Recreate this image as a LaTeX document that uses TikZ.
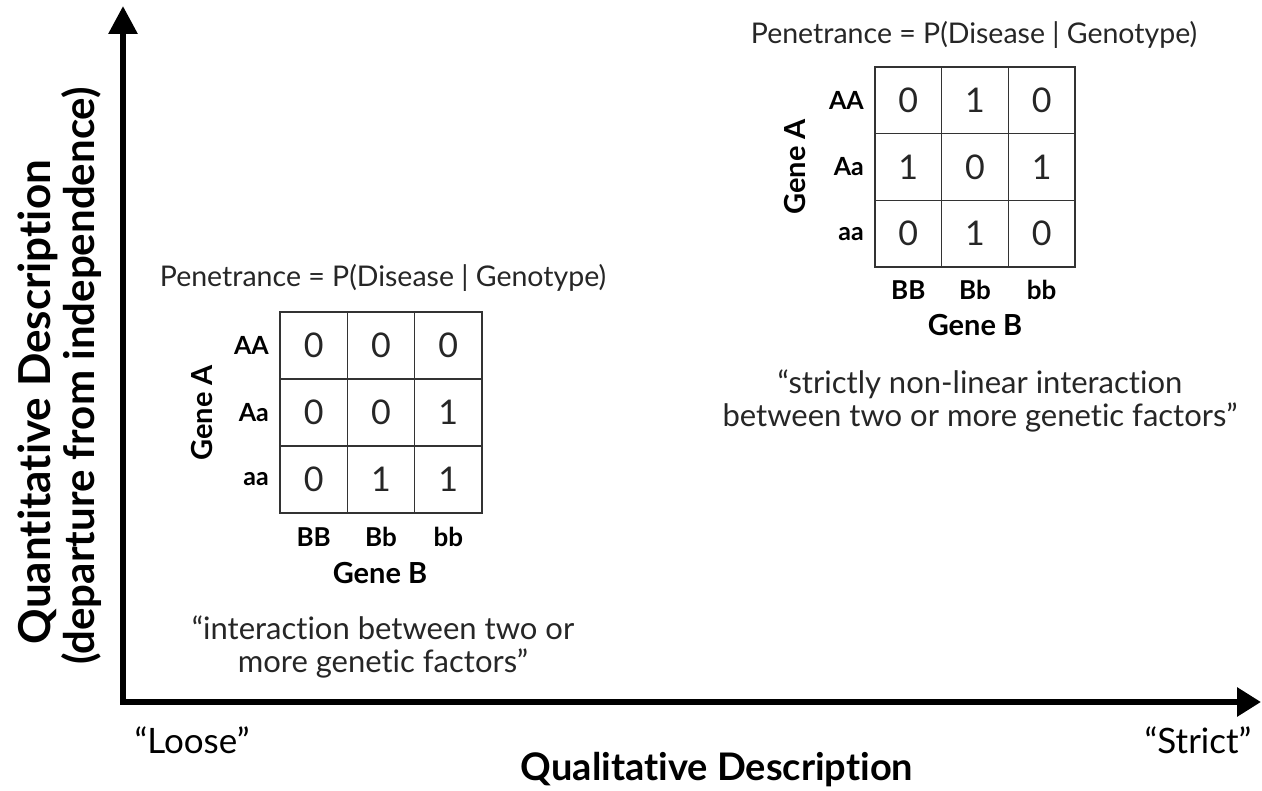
\documentclass[tikz,border=0pt]{standalone}
\usepackage{fontspec}
\setmainfont{Lato}[Ligatures={NoCommon}]
\usetikzlibrary{arrows.meta}
\begin{document}
\begin{tikzpicture}[x=1pt,y=-1pt,
  cell/.style={draw=black!80, line width=1.6pt, minimum width=67.3pt, minimum height=67pt, inner sep=0pt, font=\fontsize{34}{34}\selectfont, text=black!85},
  rcell/.style={cell, minimum width=66.7pt, minimum height=66.7pt},
  rowlab/.style={font=\bfseries\fontsize{25}{25}\selectfont, anchor=east, inner sep=0pt},
  collab/.style={font=\bfseries\fontsize{26}{26}\selectfont, inner sep=0pt},
  genelab/.style={font=\bfseries\fontsize{29}{29}\selectfont, inner sep=0pt},
  pentitle/.style={font=\fontsize{28.5}{28.5}\selectfont, text=black!85, inner sep=0pt},
  quotetext/.style={font=\fontsize{31}{33}\selectfont, align=center, text=black!85, inner sep=0pt},
  axislab/.style={font=\bfseries\fontsize{44}{44}\selectfont, inner sep=0pt},
  endlab/.style={font=\fontsize{35}{35}\selectfont, inner sep=0pt},
  axisline/.style={line width=6pt, line join=miter, {Triangle[length=28pt,width=28pt]}-{Triangle[length=24pt,width=28pt]}}
]
\useasboundingbox (0,0) rectangle (1262,791);
\fill[white] (0,0) rectangle (1262,791);

% axes
\coordinate (Ytip) at (123,6);
\coordinate (O) at (123,702);
\coordinate (Xtip) at (1261,702);
\draw[axisline] (Ytip) -- (O) -- (Xtip);

\node[axislab, rotate=90] (qd) at (38,402) {Quantitative Description};
\node[axislab, font=\bfseries\fontsize{42}{42}\selectfont, rotate=90] (dep) at (82,376) {(departure from independence)};
\node[endlab] (loose) at (192,740) {“Loose”};
\node[endlab] (strict) at (1198,740) {“Strict”};
\node[axislab, font=\bfseries\fontsize{38}{38}\selectfont] (qual) at (717,770) {Qualitative Description};

% left matrix
\node[pentitle] (Ltitle) at (383,278) {Penetrance = P(Disease | Genotype)};
\foreach \r/\a/\b/\c [count=\i] in {AA/0/0/0, Aa/0/0/1, aa/0/1/1} {
  \node[cell] (L\i a) at (313.7, {345.5+67*(\i-1)}) {\a};
  \node[cell] (L\i b) at (381.0, {345.5+67*(\i-1)}) {\b};
  \node[cell] (L\i c) at (448.3, {345.5+67*(\i-1)}) {\c};
  \node[rowlab] (LR\i) at (269, {345.5+67*(\i-1)}) {\r};
}
\foreach \s/\x [count=\j] in {BB/313.7, Bb/381.0, bb/448.3} {
  \node[collab] (LC\j) at (\x,537) {\s};
}
\node[genelab] (LgB) at (380,573) {Gene B};
\node[genelab, rotate=90] (LgA) at (202,413) {Gene A};
\node[quotetext] (Lq) at (383,647) {“interaction between two or\\more genetic factors”};

% right matrix
\node[pentitle] (Rtitle) at (974,35) {Penetrance = P(Disease | Genotype)};
\foreach \r/\a/\b/\c [count=\i] in {AA/0/1/0, Aa/1/0/1, aa/0/1/0} {
  \node[rcell] (R\i a) at (908.3, {100.3+66.7*(\i-1)}) {\a};
  \node[rcell] (R\i b) at (975.0, {100.3+66.7*(\i-1)}) {\b};
  \node[rcell] (R\i c) at (1041.7, {100.3+66.7*(\i-1)}) {\c};
  \node[rowlab] (RR\i) at (864, {100.3+66.7*(\i-1)}) {\r};
}
\foreach \s/\x [count=\j] in {BB/908.3, Bb/975.0, bb/1041.7} {
  \node[collab] (RC\j) at (\x,290) {\s};
}
\node[genelab] (RgB) at (975,325) {Gene B};
\node[genelab, rotate=90] (RgA) at (795,167) {Gene A};
\node[quotetext] (Rq) at (980,401) {“strictly non-linear interaction\\between two or more genetic factors”};
\end{tikzpicture}
\end{document}
